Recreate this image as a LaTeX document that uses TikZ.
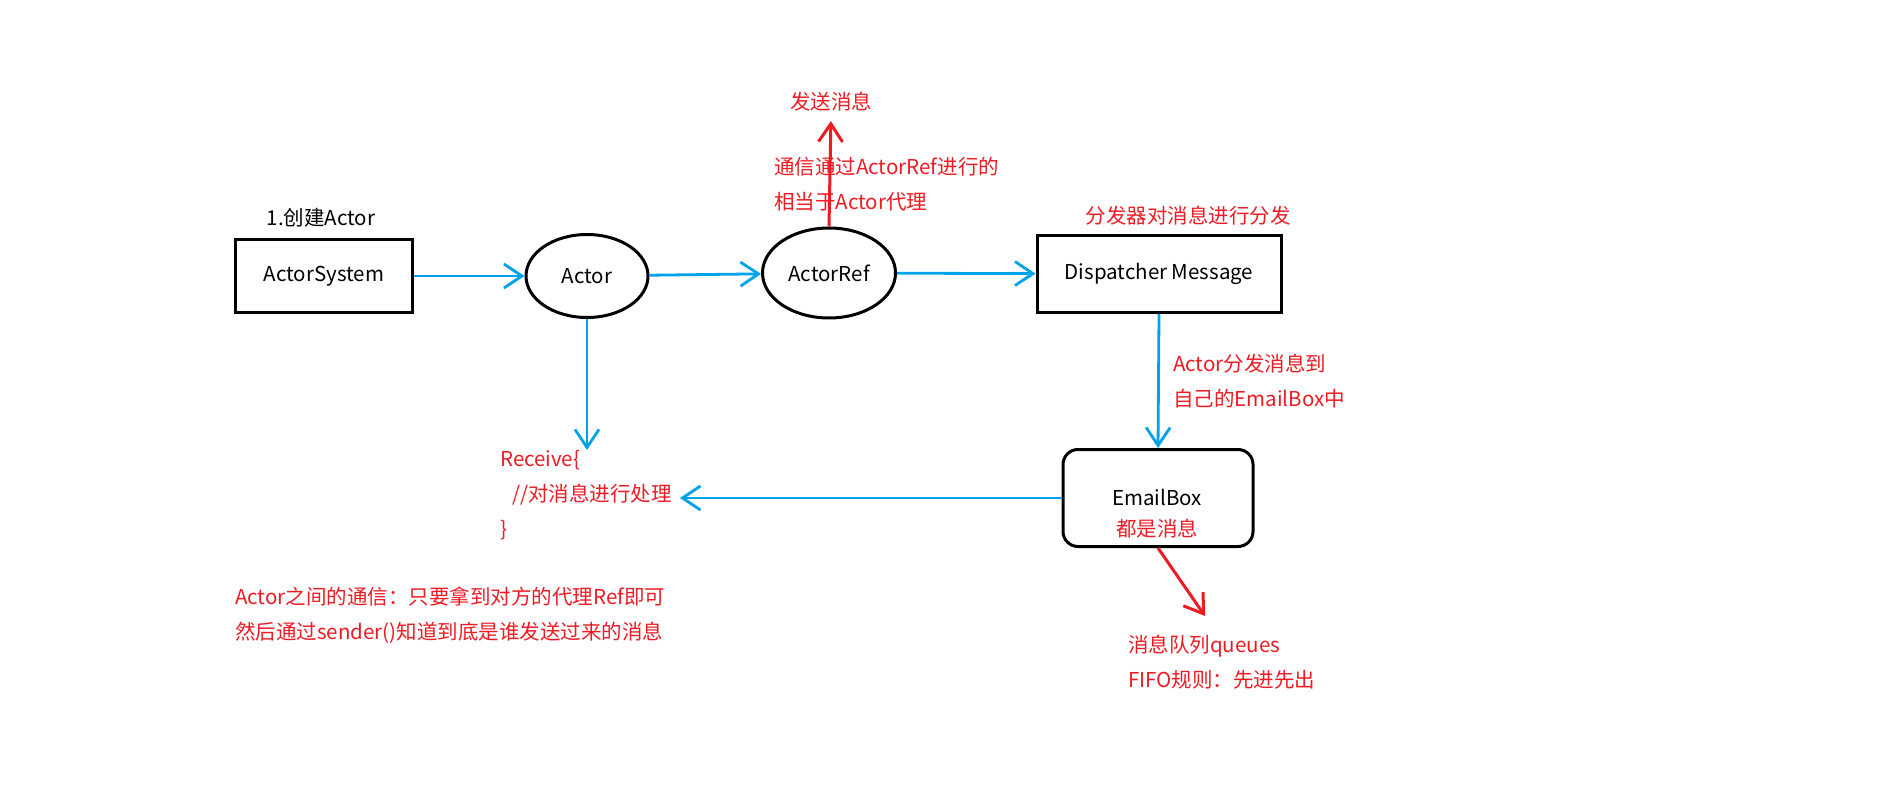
\documentclass[tikz,border=0pt]{standalone}
\usepackage{fontspec}
\setmainfont{Noto Sans CJK SC}
\usepackage{tikz}
\usetikzlibrary{arrows.meta}
\usetikzlibrary{shapes.geometric}

\definecolor{paintblue}{RGB}{0,162,232}
\definecolor{paintred}{RGB}{237,28,36}
\tikzset{
	txt/.style={font=\fontsize{20.5}{35}\selectfont},
	blackbox/.style={txt,draw,line width=3pt,inner sep=0pt},
	oval/.style={txt,draw,ellipse,line width=3pt,inner sep=0pt},
	note/.style={txt,text=paintred,align=left,inner sep=0pt},
	blueflow/.style={paintblue,line width=2.8pt,-{Straight Barb[length=18pt,width=24pt]}},
	redflow/.style={paintred,line width=3pt,-{Straight Barb[length=18pt,width=24pt]}},
}

\begin{document}
\begin{tikzpicture}[x=1pt,y=-1pt]
			\fill[white] (0,0) rectangle (1902,802);
			\useasboundingbox (0,0) rectangle (1902,802);
			%actor system and actors
			\node[txt] (create) at (321,218) {1.创建Actor};
			\node[blackbox,minimum width=177pt,minimum height=73pt] (sys) at (324,276) {ActorSystem};
			\node[oval,minimum width=122pt,minimum height=83pt] (actor) at (587,276) {Actor};
			\node[oval,minimum width=133pt,minimum height=90pt] (ref) at (829,273) {ActorRef};
			\node[blackbox,minimum width=244pt,minimum height=77pt] (disp) at (1159,274) {Dispatcher Message};
			\node[blackbox,rounded corners=15pt,minimum width=190pt,minimum height=97pt] (email) at (1158,498) {};
			\node[txt] (emailname) at (1157,497) {EmailBox};
			\node[txt,text=paintred] (emailnote) at (1157,529) {都是消息};
			%red notes
			\node[txt,text=paintred] (send) at (831,102) {发送消息};
			\node[note,anchor=west] (refnote) at (774,184) {通信通过ActorRef进行的\\相当于Actor代理};
			\node[txt,text=paintred] (dispnote) at (1188,216) {分发器对消息进行分发};
			\node[note,anchor=west] (boxnote) at (1173,381) {Actor分发消息到\\自己的EmailBox中};
			\node[note,anchor=west] (recv) at (500,495) {Receive\{\\\hspace*{12pt}//对消息进行处理\\\}};
			\node[note,anchor=west] (comm) at (235,615) {Actor之间的通信：只要拿到对方的代理Ref即可\\然后通过sender()知道到底是谁发送过来的消息};
			\node[note,anchor=west] (queue) at (1128,662) {消息队列queues\\FIFO规则：先进先出};
			\coordinate (qtip) at (1205,616);
			%blue flow
			\draw[blueflow] (sys) -- (actor);
			\draw[blueflow] (actor) -- (ref);
			\draw[blueflow] (ref) -- (disp);
			\draw[blueflow] (disp.south) -- (email.north);
			\draw[blueflow,shorten >=8pt] (email.west) -- (email.west -| recv.east);
			\draw[blueflow] (actor.south) -- (actor.south |- recv.north);
			%red arrows
			\draw[redflow,shorten >=6pt] (ref.north) -- (send.south);
			\draw[redflow] (email.south) -- (qtip);
		\end{tikzpicture}
\end{document}
